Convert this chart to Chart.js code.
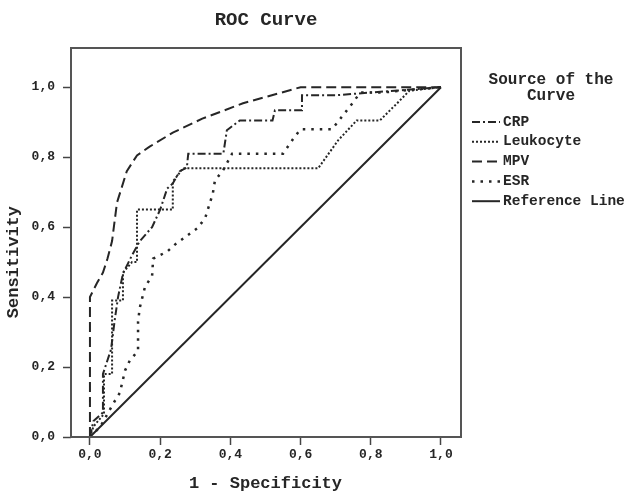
<!DOCTYPE html>
<html><head><meta charset="utf-8">
<script src="https://cdn.jsdelivr.net/npm/chart.js@4"></script>
<style>html,body{margin:0;padding:0;background:#fff}#wrap{width:628px;height:494px}</style>
</head><body><div id="wrap"><canvas id="c" width="628" height="494"></canvas></div>
<script>
// ---- data (1 - specificity, sensitivity) ----
const seriesNames = ['CRP', 'Leukocyte', 'MPV', 'ESR', 'Reference Line'];
const crpX = [0, 0.01, 0.037, 0.037, 0.06, 0.07, 0.08, 0.094, 0.12, 0.142, 0.177, 0.2, 0.22, 0.236, 0.256, 0.276, 0.28, 0.38, 0.39, 0.427, 0.52, 0.527, 0.604, 0.604, 0.70, 1];
const crpY = [0, 0.046, 0.07, 0.18, 0.25, 0.33, 0.40, 0.467, 0.52, 0.56, 0.60, 0.65, 0.71, 0.725, 0.76, 0.77, 0.81, 0.81, 0.877, 0.905, 0.905, 0.934, 0.934, 0.977, 0.977, 1];
const leukX = [0, 0.01, 0.04, 0.04, 0.063, 0.063, 0.094, 0.094, 0.12, 0.134, 0.134, 0.236, 0.236, 0.265, 0.65, 0.707, 0.76, 0.826, 0.875, 0.91, 1];
const leukY = [0, 0.03, 0.066, 0.18, 0.18, 0.39, 0.39, 0.47, 0.50, 0.50, 0.65, 0.65, 0.73, 0.768, 0.768, 0.848, 0.905, 0.905, 0.954, 0.99, 1];
const mpvX = [0, 0, 0.02, 0.037, 0.05, 0.063, 0.077, 0.105, 0.134, 0.17, 0.236, 0.32, 0.436, 0.54, 0.6, 1];
const mpvY = [0, 0.40, 0.44, 0.47, 0.51, 0.56, 0.67, 0.76, 0.805, 0.83, 0.87, 0.91, 0.954, 0.983, 1, 1];
const esrX = [0, 0.03, 0.066, 0.085, 0.1, 0.114, 0.137, 0.137, 0.142, 0.157, 0.177, 0.18, 0.22, 0.242, 0.305, 0.328, 0.35, 0.356, 0.379, 0.405, 0.55, 0.58, 0.6, 0.69, 0.75, 0.77, 0.835, 1];
const esrY = [0, 0.03, 0.095, 0.126, 0.19, 0.22, 0.246, 0.33, 0.37, 0.43, 0.46, 0.51, 0.53, 0.55, 0.596, 0.625, 0.696, 0.733, 0.762, 0.81, 0.81, 0.854, 0.88, 0.88, 0.957, 0.985, 0.985, 1];
const refX = [0, 1];
const refY = [0, 1];
const tickValues = [0, 0.2, 0.4, 0.6, 0.8, 1.0];
const chartTitle = 'ROC Curve';
const xTitle = '1 - Specificity';
const yTitle = 'Sensitivity';
const legendTitle = ['Source of the', 'Curve'];

const FONT = "'Liberation Mono', 'DejaVu Sans Mono', monospace";
const INK = '#262626';
const pts = (xs, ys) => xs.map((x, i) => ({x: x, y: ys[i]}));
const fmt = v => v.toFixed(1).replace('.', ',');

const styles = [
  {dash: [8, 3, 2, 3], w: 2},
  {dash: [2, 2], w: 2},
  {dash: [10, 5], w: 2},
  {dash: [2.5, 6], w: 2.5},
  {dash: [], w: 2}
];
const xsAll = [crpX, leukX, mpvX, esrX, refX];
const ysAll = [crpY, leukY, mpvY, esrY, refY];

const datasets = seriesNames.map((name, i) => ({
  label: name,
  data: pts(xsAll[i], ysAll[i]),
  showLine: true,
  borderColor: INK,
  borderWidth: styles[i].w,
  borderDash: styles[i].dash,
  pointRadius: 0,
  fill: false,
  tension: 0
}));

const decor = {
  id: 'decor',
  afterDraw(chart) {
    const ctx = chart.ctx, a = chart.chartArea;
    const xs = chart.scales.x, ys = chart.scales.y;
    ctx.save();
    // frame
    ctx.strokeStyle = '#555';
    ctx.lineWidth = 2;
    ctx.setLineDash([]);
    ctx.strokeRect(a.left, a.top, a.right - a.left, a.bottom - a.top);
    ctx.fillStyle = INK;
    // chart title
    ctx.font = 'bold 19px ' + FONT;
    ctx.textAlign = 'center';
    ctx.textBaseline = 'middle';
    ctx.fillText(chartTitle, (a.left + a.right) / 2, 20);
    // x title
    ctx.font = 'bold 17px ' + FONT;
    ctx.fillText(xTitle, (xs.getPixelForValue(0) + xs.getPixelForValue(1)) / 2, 484);
    // y title
    ctx.save();
    ctx.translate(14, (ys.getPixelForValue(0) + ys.getPixelForValue(1)) / 2);
    ctx.rotate(-Math.PI / 2);
    ctx.fillText(yTitle, 0, 0);
    ctx.restore();
    // legend
    ctx.font = 'bold 16px ' + FONT;
    ctx.fillText(legendTitle[0], 551, 80);
    ctx.fillText(legendTitle[1], 551, 96);
    ctx.font = 'bold 14.5px ' + FONT;
    ctx.textAlign = 'left';
    chart.data.datasets.forEach((ds, i) => {
      const y = 122 + i * 19.8;
      ctx.beginPath();
      ctx.setLineDash(ds.borderDash);
      ctx.lineWidth = ds.borderWidth;
      ctx.strokeStyle = INK;
      ctx.moveTo(472, y);
      ctx.lineTo(500, y);
      ctx.stroke();
      ctx.setLineDash([]);
      ctx.fillText(ds.label, 503, y);
    });
    ctx.restore();
  }
};

const axisCommon = {
  type: 'linear',
  afterBuildTicks: s => { s.ticks = tickValues.map(v => ({value: v})); },
  ticks: {
    callback: v => fmt(v),
    font: {family: FONT, size: 13, weight: 'bold'},
    color: INK,
    autoSkip: false,
    maxRotation: 0
  },
  grid: {drawOnChartArea: false, drawTicks: true, tickLength: 8, color: '#444', tickWidth: 1.5},
  border: {display: false},
  title: {display: false}
};

new Chart(document.getElementById('c'), {
  type: 'scatter',
  data: {datasets: datasets},
  options: {
    responsive: false,
    animation: false,
    layout: {padding: {top: 48, right: 167, left: 0, bottom: 0}},
    plugins: {legend: {display: false}, title: {display: false}, tooltip: {enabled: false}},
    scales: {
      x: Object.assign({}, axisCommon, {
        min: -0.054, max: 1.057,
        ticks: Object.assign({}, axisCommon.ticks, {padding: 2}),
        afterFit: s => { s.height = 57; }
      }),
      y: Object.assign({}, axisCommon, {
        min: 0, max: 1.112,
        ticks: Object.assign({}, axisCommon.ticks, {padding: 8}),
        afterFit: s => { s.width = 71; }
      })
    }
  },
  plugins: [decor]
});
</script>
</body></html>
